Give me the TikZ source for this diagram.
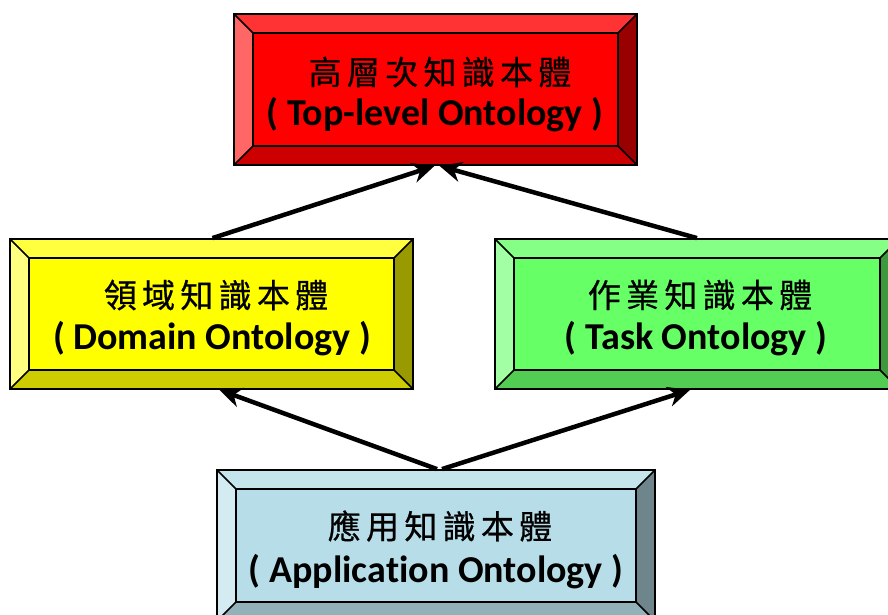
\documentclass[tikz,border=0pt]{standalone}
\usepackage{fontspec}
\setmainfont[Ligatures=NoCommon]{Carlito}
\newfontfamily\cjk[LetterSpace=16,FakeBold=0.6]{Noto Sans CJK TC}
\usetikzlibrary{arrows.meta,calc}
\definecolor{rFace}{HTML}{FF0000}\definecolor{rTop}{HTML}{FF3333}\definecolor{rLeft}{HTML}{FF6666}\definecolor{rRight}{HTML}{990000}\definecolor{rBot}{HTML}{CC0000}
\definecolor{yFace}{HTML}{FFFF00}\definecolor{yTop}{HTML}{FFFF40}\definecolor{yLeft}{HTML}{FFFF80}\definecolor{yRight}{HTML}{999900}\definecolor{yBot}{HTML}{CCCC00}
\definecolor{gFace}{HTML}{66FF66}\definecolor{gTop}{HTML}{85FF85}\definecolor{gLeft}{HTML}{A3FFA3}\definecolor{gRight}{HTML}{3D993D}\definecolor{gBot}{HTML}{52CC52}
\definecolor{bFace}{HTML}{B7DEE8}\definecolor{bTop}{HTML}{C5E5ED}\definecolor{bLeft}{HTML}{D4EBF1}\definecolor{bRight}{HTML}{6E858B}\definecolor{bBot}{HTML}{92B2BA}
\tikzset{
  bev/.style={draw=black,line width=1.6pt,line join=miter},
  boxnode/.style={draw=black,line width=1.8pt,inner sep=0pt,rectangle},
  cjkt/.style={font=\cjk\fontsize{33}{33}\selectfont,inner sep=0pt,anchor=center},
  ent/.style={font=\bfseries\fontsize{38}{38}\selectfont,inner sep=0pt,anchor=center},
  arr/.style={line width=4.5pt,-{Stealth[length=22pt,width=20pt,inset=7pt]}},
}
\newcommand{\bevbox}[6]{%
  \def\bw{19}%
  \fill[#6Top] (#2,#3) -- (#4,#3) -- (#4-\bw,#3+\bw) -- (#2+\bw,#3+\bw) -- cycle;
  \fill[#6Left] (#2,#3) -- (#2+\bw,#3+\bw) -- (#2+\bw,#5-\bw) -- (#2,#5) -- cycle;
  \fill[#6Right] (#4,#3) -- (#4-\bw,#3+\bw) -- (#4-\bw,#5-\bw) -- (#4,#5) -- cycle;
  \fill[#6Bot] (#2,#5) -- (#4,#5) -- (#4-\bw,#5-\bw) -- (#2+\bw,#5-\bw) -- cycle;
  \filldraw[fill=#6Face,bev] (#2+\bw,#3+\bw) rectangle (#4-\bw,#5-\bw);
  \draw[bev] (#2,#3) -- (#2+\bw,#3+\bw) (#4,#3) -- (#4-\bw,#3+\bw) (#2,#5) -- (#2+\bw,#5-\bw) (#4,#5) -- (#4-\bw,#5-\bw);
  \node[boxnode,minimum width={#4-#2},minimum height={#5-#3}] (#1) at ({(#2+#4)/2},{(#3+#5)/2}) {};
}
\begin{document}
\begin{tikzpicture}[x=1pt,y=-1pt]
\useasboundingbox (0,0) rectangle (888,615);
\clip (0,0) rectangle (888,615);
\fill[white] (0,0) rectangle (888,615);
\bevbox{top}{234}{14}{637}{165}{r}
\bevbox{dom}{10}{239}{413}{389}{y}
\bevbox{task}{495}{239}{899}{389}{g}
\bevbox{app}{217}{470}{655}{621}{b}
% texts
\node[cjkt] (topc) at (440,72) {高層次知識本體};
\node[ent]  (tope) at (435,115) {( Top-level Ontology )};
\node[cjkt] (domc) at (216,295) {領域知識本體};
\node[ent]  (dome) at (212,339) {( Domain Ontology )};
\node[cjkt] (taskc) at (700,295) {作業知識本體};
\node[ent]  (taske) at (696,339) {( Task Ontology )};
\node[cjkt] (appc) at (440,526) {應用知識本體};
\node[ent]  (appe) at (436,572) {( Application Ontology )};
% arrows
\draw[arr] ([xshift=1pt]dom.north) -- ([xshift=-1pt]top.south);
\draw[arr] (task.north) -- ([xshift=4pt]top.south);
\draw[arr] ([xshift=1pt]app.north) -- ([xshift=8pt]dom.south);
\draw[arr] ([xshift=6pt]app.north) -- ([xshift=-7pt]task.south);
\end{tikzpicture}
\end{document}
